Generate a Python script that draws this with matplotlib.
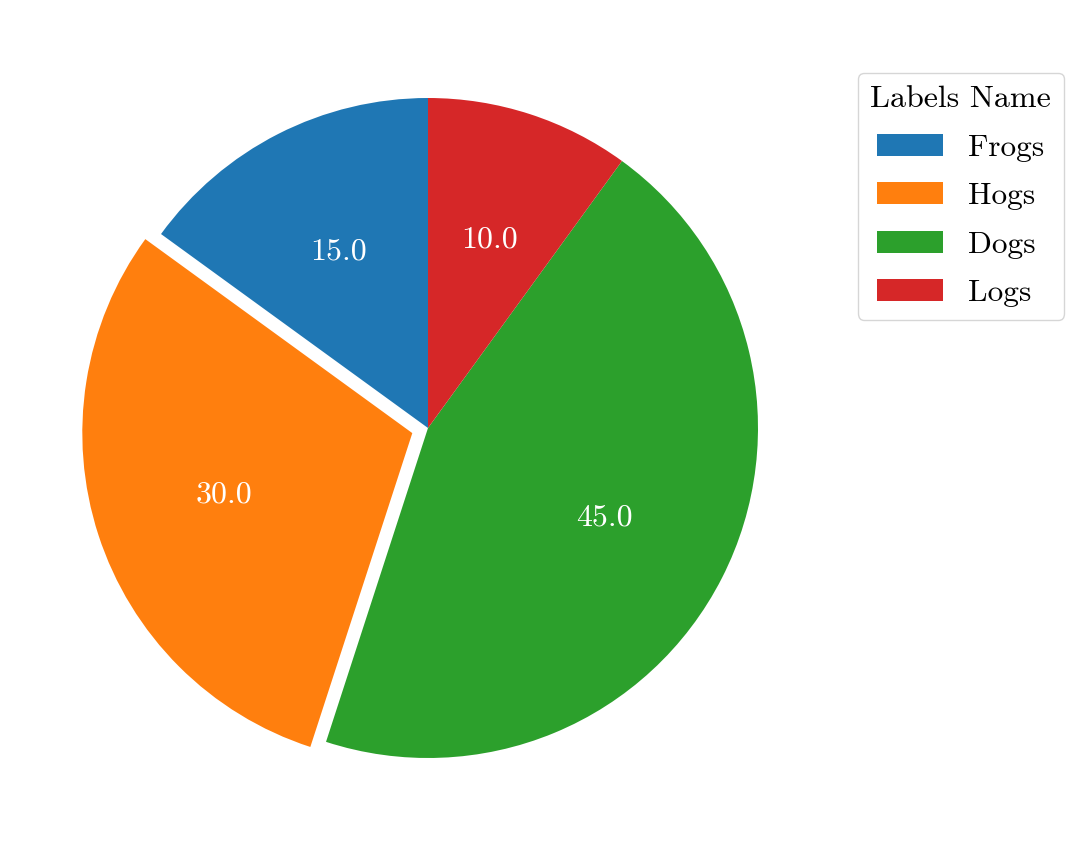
import matplotlib
matplotlib.use('Agg')
import matplotlib.pyplot as plt

plt.rcParams['font.family'] = ['cmr10', 'DejaVu Serif']
plt.rcParams['axes.unicode_minus'] = False
plt.rcParams['mathtext.fontset'] = 'cm'

labels = ['Frogs', 'Hogs', 'Dogs', 'Logs']
sizes = [15, 30, 45, 10]
explode = [0, 0.05, 0, 0]

fig = plt.figure(figsize=(10.8, 8.57), dpi=100)
ax = fig.add_axes([32 / 1080, 33 / 857, 792 / 1080, 792 / 857])

wedges, texts, autotexts = ax.pie(sizes, explode=explode, autopct='%.1f',
                                  startangle=90, counterclock=True,
                                  textprops=dict(color='white', fontsize=23))
ax.set_xlim(-1.2, 1.2)
ax.set_ylim(-1.2, 1.2)
ax.set_aspect('equal')

ax.legend(wedges, labels, title='Labels Name', loc='upper left',
          bbox_to_anchor=(858 / 1080, 1 - 73 / 857), bbox_transform=fig.transFigure,
          fontsize=22.5, title_fontsize=23, borderaxespad=0, labelspacing=0.66,
          handlelength=2.1)

fig.savefig('out.png', dpi=100)
